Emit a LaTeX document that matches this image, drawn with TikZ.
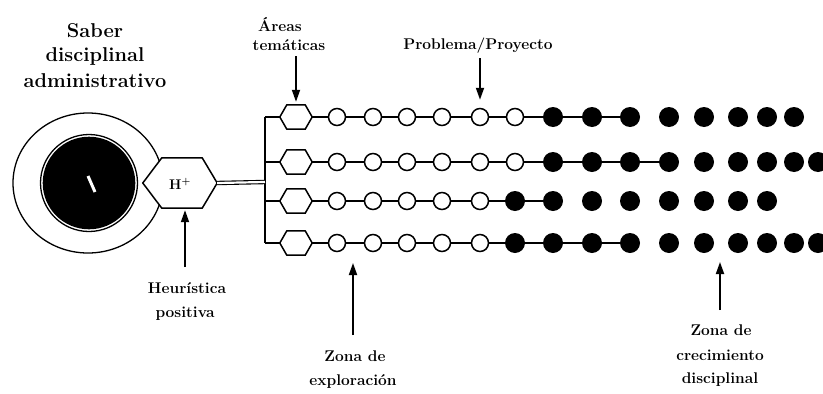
\documentclass[tikz,border=0pt]{standalone}
\usetikzlibrary{arrows.meta}
\begin{document}
\begin{tikzpicture}[x=1pt,y=-1pt,
  wdot/.style={circle,draw,line width=1.5pt,fill=white,minimum size=17pt,inner sep=0pt},
  bdot/.style={circle,fill=black,minimum size=20pt,inner sep=0pt},
  hexbox/.style={rectangle,minimum width=32pt,minimum height=24pt,inner sep=0pt},
  hexline/.style={draw,line width=1.5pt,fill=white},
  link/.style={line width=1.3pt},
  arr/.style={line width=1.8pt,-{Triangle[width=8pt,length=12pt]}},
  lab/.style={font=\fontsize{15.5}{18}\selectfont\bfseries,anchor=base,inner sep=0pt},
  ttl/.style={font=\fontsize{20}{24}\selectfont\bfseries,anchor=base,inner sep=0pt}]
\useasboundingbox (0,0) rectangle (823,394);
\clip (0,0) rectangle (823,394);

% core
\draw[line width=1.3pt] (88,183) ellipse [x radius=75pt, y radius=70pt];
\node[circle,draw,line width=1.3pt,minimum size=97pt,inner sep=0pt] (core) at (89,183) {};
\fill (core.center) circle [radius=46.3pt];
\draw[white,line width=3pt] (88,176) -- (95,192);

% H+ hexagon
\node[rectangle,minimum width=74pt,minimum height=50pt,inner sep=0pt] (hp) at (180,183) {};
\draw[hexline] (hp.west) -- ([xshift=19pt]hp.north west) -- ([xshift=-15pt]hp.north east) -- (hp.east) -- ([xshift=-15pt]hp.south east) -- ([xshift=19pt]hp.south west) -- cycle;
\node[font=\fontsize{14}{14}\selectfont\bfseries,inner sep=0pt] (hpt) at (180,184) {H\textsuperscript{+}};

% bar and rows
\foreach \r/\y in {1/117,2/162,3/201,4/243} {
  \coordinate (b\r) at (265,\y);
  \node[hexbox] (h\r) at (296,\y) {};
  \draw[hexline] (h\r.west) -- ([xshift=7pt]h\r.north west) -- ([xshift=-7pt]h\r.north east) -- (h\r.east) -- ([xshift=-7pt]h\r.south east) -- ([xshift=7pt]h\r.south west) -- cycle;
  \draw[link] (b\r) -- (h\r.west);
}
\draw[line width=2pt] (b1) -- (b4);
\coordinate (bm) at (265,182);
\draw[double,double distance=2.2pt,line width=1.1pt] (hp.east) -- (bm);

\foreach \r/\y/\nw/\nb/\nd in {1/117/6/9/14, 2/162/6/10/15, 3/201/5/7/13, 4/243/5/9/15} {
  \foreach \c in {1,...,\nd} {
    \pgfmathsetmacro{\xx}{{337,373,407,442,480,515,553,592,630,669,704,738,767,794,818}[\c-1]}
    \ifnum\c>\nw
      \node[bdot] (r\r c\c) at (\xx,\y) {};
    \else
      \node[wdot] (r\r c\c) at (\xx,\y) {};
    \fi
  }
  \draw[link] (h\r.east) -- (r\r c1);
  \foreach \c in {2,...,\nb} {
    \pgfmathtruncatemacro{\pc}{\c-1}
    \draw[link] (r\r c\pc) -- (r\r c\c);
  }
}

% texts
\node[ttl] (s1) at (95,37) {Saber};
\node[ttl] (s2) at (95,61) {disciplinal};
\node[ttl] (s3) at (95,87) {administrativo};

\node[lab] (a1) at (280,31) {Áreas};
\node[lab] (a2) at (289,50) {temáticas};
\node[lab] (p1) at (478,49) {Problema/Proyecto};
\node[lab] (he1) at (187,293) {Heurística};
\node[lab] (he2) at (185,317) {positiva};
\node[lab] (z1) at (355,361) {Zona de};
\node[lab] (z2) at (353,385) {exploración};
\node[lab] (k1) at (721,335) {Zona de};
\node[lab] (k2) at (720,360) {crecimiento};
\node[lab] (k3) at (720,383) {disciplinal};

% arrows
\coordinate (aA) at (296,56);
\draw[arr,shorten >=3pt] (aA) -- (h1.north);
\coordinate (aP) at (480,58);
\draw[arr,shorten >=8pt] (aP) -- (r1c5.north);
\coordinate (aH) at (185,267);
\draw[arr,shorten >=2pt] (aH) -- ([xshift=5pt]hp.south);
\coordinate (aZ) at (353,335);
\coordinate (aZt) at (353,263);
\draw[arr] (aZ) -- (aZt);
\coordinate (aC) at (720,310);
\coordinate (aCt) at (720,262);
\draw[arr] (aC) -- (aCt);
\end{tikzpicture}
\end{document}
